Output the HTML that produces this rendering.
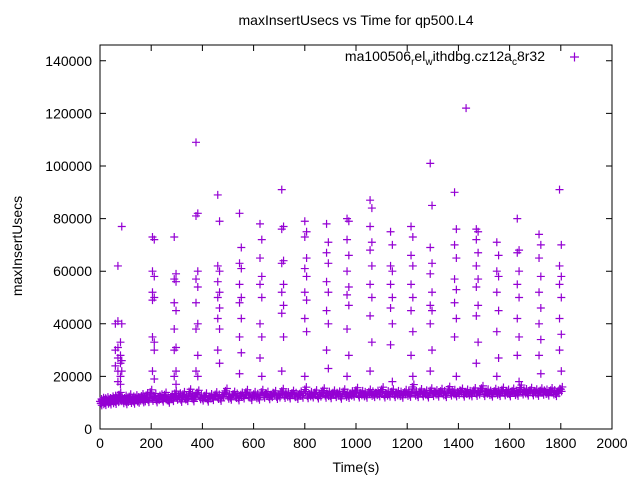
<!DOCTYPE html>
<html><head><meta charset="utf-8"><style>
body{margin:0;background:#fff}
svg text{font-family:"Liberation Sans",sans-serif;font-size:14px;fill:#000}
</style></head><body>
<svg id="chart" width="640" height="480">
<rect x="0" y="0" width="640" height="480" fill="#fff"/>
<text x="356" y="25" text-anchor="middle">maxInsertUsecs vs Time for qp500.L4</text>
<text x="22" y="246" text-anchor="middle" transform="rotate(-90 22 246)">maxInsertUsecs</text>
<text x="356" y="472" text-anchor="middle">Time(s)</text>
<g id="axes"></g>
<g id="marks"></g>
<g>
<text x="545" y="61" text-anchor="end">ma100506<tspan font-size="10" dy="4">r</tspan><tspan dy="-4">el</tspan><tspan font-size="10" dy="4">w</tspan><tspan dy="-4">ithdbg.cz12a</tspan><tspan font-size="10" dy="4">c</tspan><tspan dy="-4">8r32</tspan></text>
<path d="M570 57h9M574.5 52.5v9" stroke="#9400d3" stroke-width="1.2"/>
</g>
</svg>
<script>
const xTicks=[0,200,400,600,800,1000,1200,1400,1600,1800,2000];
const yTicks=[0,20000,40000,60000,80000,100000,120000,140000];
const colT=[60,70,80,85,205,212,290,297,375,382,460,467,545,552,625,632,710,717,800,807,885,892,965,972,1055,1062,1135,1142,1215,1222,1290,1297,1385,1392,1430,1470,1477,1550,1557,1630,1637,1715,1722,1795,1802];
const colV=[[24,30,40],[41,27,22,18,62,31],[28,25,33,20,17],[77,26,40,22],
[73,60,52,49,35,22],[72,58,50,33,30,19],
[73,57,48,38,30,20],[59,56,45,31,22,17],
[109,81,57,48,38,22],[82,60,54,40,28,20],
[89,62,56,50,42,30],[79,60,52,46,38,25],
[82,63,55,48,35,21],[69,61,50,42,29],
[78,65,55,40,27],[72,58,50,35,20],
[91,76,63,52,44,22],[77,64,55,47,35],
[79,73,61,52,42,20],[75,65,58,49,37],
[78,67,56,45,30],[71,63,52,40,23],
[80,72,60,51,38,20],[79,66,54,47,28],
[87,77,68,55,43,22],[84,71,62,50,33],
[75,62,55,46,32],[70,60,50,40,18],
[77,66,55,45,28],[73,62,50,37,20],
[101,69,59,47,40,22],[85,63,52,45,30],
[90,70,57,48,35],[76,65,53,42,20],
[122],
[76,72,62,54,43,25],[75,67,57,47,33],
[71,60,52,37,20],[66,58,45,27],
[80,67,55,42,28],[68,60,50,35,18],
[74,65,52,40,28],[70,58,46,34,21],
[91,62,55,42,30],[70,58,50,36,22]];
const baseT=[0,4,8,12,16,20,25,30,35,40,45,50,55,60,65,70,75,80,90,96,102,108,114,120,126,132,138,144,150,156,162,168,174,180,188,196,204,212,220,228,236,244,252,260,268,276,284,292,300,308,316,324,332,340,348,356,364,372,380,390,400,410,420,430,440,450,460,470,480,490,500,510,520,530,540,550,560,570,580,590,600,610,620,630,640,650,660,670,680,690,700,710,720,730,740,750,760,770,780,790,800,810,820,830,840,850,860,870,880,890,900,910,920,930,940,950,960,970,980,990,1000,1010,1020,1030,1040,1050,1060,1070,1080,1090,1100,1110,1120,1130,1140,1150,1160,1170,1180,1190,1200,1210,1220,1230,1240,1250,1260,1270,1280,1290,1300,1310,1320,1330,1340,1350,1360,1370,1380,1390,1400,1410,1420,1430,1440,1450,1460,1470,1480,1490,1500,1510,1520,1530,1540,1550,1560,1570,1580,1590,1600,1610,1620,1630,1640,1650,1660,1670,1680,1690,1700,1710,1720,1730,1740,1750,1760,1770,1780,1790,1800];
const baseV=[10.5,9.8,11,10.2,10.8,9.9,11.2,10.4,10.9,10.1,11.5,10.6,11.8,10.3,12,11,13,11.4,10.6,11.8,10.2,11.1,12.3,10.7,11.5,10.4,12,11.2,10.8,11.6,12.4,10.9,11.3,12.8,11,14,11.5,12.6,10.9,11.8,12.3,11.2,13,11.7,10.8,12.2,11.4,13.5,11.9,12.7,11.1,13.2,12,11.4,14.2,12.5,11.3,12.9,13.8,12.1,11.6,12.7,11.2,12.4,11.8,13.1,12.2,11.5,12.9,14.5,12.3,11.9,13.3,12.6,11.7,13,12.4,14,12.8,11.8,13.2,12.5,11.9,14,12.7,13.3,12.1,12.9,13.6,12.2,12.8,14.4,12.6,13.1,12.4,13.7,12.9,12.2,13.4,12.7,15,12.5,13.2,12.8,13.9,12.4,13.1,14.6,12.7,13.3,12.5,13.8,12.9,13.4,12.3,14.2,13,12.6,13.5,13.1,14.8,12.8,13.6,13.2,12.7,14.1,13.4,12.9,13.7,13.2,15,12.8,13.5,13.1,14.2,12.9,13.6,13.3,12.7,14,13.4,13,16,13.5,12.9,14.3,13.2,13.8,12.8,14.6,13.3,13.9,13.1,14.4,13.6,12.9,15.2,13.5,14,13.2,13.8,14.5,13.1,14.1,13.6,13.2,14.7,13.4,13.9,15.5,13.3,14.2,13.7,13.1,14.4,13.8,13.3,14.9,13.6,14.1,13.2,14.5,13.7,13.4,15.8,13.9,14.3,13.5,14.8,13.6,14.2,13.4,14.6,13.8,14.1,13.5,14.7,13.9,13.3,14.4,15.1,13.7,14,13.6,14.3,13.8,14.9,13.5,14.2,13.9,13.6,14.5,13.8];
const X0=100,X1=612,Y0=429,Y1=45;
function sx(t){return X0+(t/2000)*(X1-X0);}
function sy(v){return Y0-(v/146000)*(Y0-Y1);}
const ns="http://www.w3.org/2000/svg";
const axes=document.getElementById('axes'),marks=document.getElementById('marks');
const frame=document.createElementNS(ns,'rect');
frame.setAttribute('x',X0);frame.setAttribute('y',Y1);frame.setAttribute('width',X1-X0);frame.setAttribute('height',Y0-Y1);
frame.setAttribute('fill','none');frame.setAttribute('stroke','#000');


axes.appendChild(frame);
xTicks.forEach(t=>{const x=sx(t);
 const p=document.createElementNS(ns,'path');
 p.setAttribute('d',`M${x} ${Y0}v-6M${x} ${Y1}v6`);p.setAttribute('stroke','#000');
 
 
 axes.appendChild(p);
 const tx=document.createElementNS(ns,'text');
 tx.setAttribute('x',x);tx.setAttribute('y',Y0+19);tx.setAttribute('text-anchor','middle');tx.textContent=t;
 
 
 axes.appendChild(tx);});
yTicks.forEach(v=>{const y=sy(v);
 const p=document.createElementNS(ns,'path');
 p.setAttribute('d',`M${X0} ${y}h6M${X1} ${y}h-6`);p.setAttribute('stroke','#000');
 
 
 axes.appendChild(p);
 const tx=document.createElementNS(ns,'text');
 tx.setAttribute('x',X0-8);tx.setAttribute('y',y+5);tx.setAttribute('text-anchor','end');tx.textContent=v;
 
 
 axes.appendChild(tx);});
function plus(t,v){const x=sx(t),y=sy(v);
 const p=document.createElementNS(ns,'path');
 p.setAttribute('d',`M${x-4} ${y}h8M${x} ${y-4}v8`);p.setAttribute('stroke','#9400d3');p.setAttribute('stroke-width','1.2');
 
 
 marks.appendChild(p);}
baseT.forEach((t,i)=>{const b=baseV[i%baseV.length];plus(t,b*1000);plus(t+3,(b-0.8)*1000);plus(t+6,(b+0.9)*1000);});
colT.forEach((t,i)=>colV[i].forEach(v=>plus(t,v*1000)));
</script>
</body></html>
